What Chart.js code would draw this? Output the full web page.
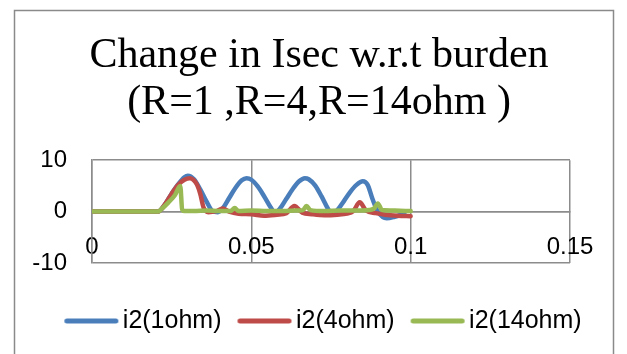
<!DOCTYPE html>
<html>
<head>
<meta charset="utf-8">
<script src="https://cdn.jsdelivr.net/npm/chart.js@4"></script>
<style>
  html, body { margin: 0; padding: 0; background: #fff; overflow: hidden; }
  #wrap { width: 627px; height: 354px; }
</style>
</head>
<body>
<div id="wrap"><canvas id="isecChart" width="627" height="354"></canvas></div>
<script>
const titleLines = ['Change in Isec w.r.t burden', '(R=1 ,R=4,R=14ohm )'];
const seriesNames = ['i2(1ohm)', 'i2(4ohm)', 'i2(14ohm)'];
const seriesColors = ['#4a7ebb', '#be4b48', '#98b954'];

// time (s) and secondary current for R = 1 ohm
const t1 = [0, 0.02, 0.0207, 0.023, 0.025, 0.027, 0.029, 0.0301, 0.032, 0.034, 0.036, 0.0378, 0.0395, 0.041, 0.043, 0.045, 0.047, 0.0485, 0.050, 0.052, 0.054, 0.056, 0.0574, 0.059, 0.061, 0.063, 0.065, 0.0668, 0.068, 0.070, 0.072, 0.074, 0.0752, 0.077, 0.079, 0.081, 0.083, 0.085, 0.0865, 0.088, 0.0897, 0.0925, 0.095, 0.098];
const i1 = [0, 0, 0, 1.5, 3.5, 5.3, 6.7, 7.0, 6.3, 4.3, 1.9, 0.1, -0.1, 0.6, 2.6, 4.6, 6.1, 6.5, 6.2, 4.9, 3.0, 0.9, -0.2, 0.6, 2.5, 4.4, 5.9, 6.5, 6.3, 5.1, 3.0, 0.6, -0.4, 0.3, 2.0, 3.8, 5.2, 5.9, 5.2, 2.5, 0, -1.3, -1.0, -0.4];

// R = 4 ohm
const t2 = [0, 0.02, 0.0207, 0.023, 0.025, 0.027, 0.029, 0.0307, 0.032, 0.033, 0.034, 0.035, 0.0365, 0.039, 0.041, 0.043, 0.046, 0.050, 0.054, 0.058, 0.061, 0.0635, 0.066, 0.069, 0.073, 0.077, 0.080, 0.082, 0.084, 0.086, 0.089, 0.092, 0.096, 0.1];
const i2 = [0, 0, 0, 1.5, 3.5, 5.2, 6.2, 6.5, 6.1, 5.2, 3.4, 0.8, -0.1, 0.1, 0.6, 0, -0.4, -0.5, -0.8, -0.6, -0.3, 1.1, -0.2, -0.5, -0.7, -0.6, -0.4, 0.1, 1.8, 0.2, -0.3, -0.6, -0.8, -0.9];

// R = 14 ohm
const t3 = [0, 0.02, 0.0207, 0.022, 0.024, 0.026, 0.0277, 0.0283, 0.029, 0.032, 0.036, 0.040, 0.0435, 0.0448, 0.046, 0.050, 0.055, 0.060, 0.064, 0.0662, 0.0673, 0.0685, 0.073, 0.078, 0.083, 0.087, 0.0885, 0.0897, 0.091, 0.095, 0.1];
const i3 = [0, 0, 0, 0.6, 1.8, 3.2, 5.0, 0.4, 0.1, 0.1, 0.2, 0.1, 0.1, 0.7, 0.1, 0.2, 0.1, 0.1, 0.2, 0.3, 1.1, 0.3, 0.1, 0.2, 0.2, 0.3, 0.6, 1.6, 0.3, 0.2, 0.1];

const xTicks = [0, 0.05, 0.1, 0.15];
const yTicks = [-10, 0, 10];

const gridGray = '#8c8c8c';
const sansFont = 'Liberation Sans';

function toPoints(xs, ys) {
    return xs.map((x, k) => ({ x: x, y: ys[k] }));
}

// short thick line with round ends, used as the legend marker
function legendLine(color) {
    const cv = document.createElement('canvas');
    cv.width = 58;
    cv.height = 8;
    const c = cv.getContext('2d');
    c.strokeStyle = color;
    c.lineWidth = 5;
    c.lineCap = 'round';
    c.beginPath();
    c.moveTo(4.5, 4);
    c.lineTo(53.5, 4);
    c.stroke();
    return cv;
}

const allT = [t1, t2, t3];
const allI = [i1, i2, i3];

const datasets = seriesNames.map((name, k) => ({
    label: name,
    data: toPoints(allT[k], allI[k]),
    borderColor: seriesColors[k],
    backgroundColor: seriesColors[k],
    borderWidth: 4.5,
    borderCapStyle: 'round',
    borderJoinStyle: 'round',
    pointRadius: 0,
    pointStyle: legendLine(seriesColors[k]),
    showLine: true,
    cubicInterpolationMode: 'monotone',
    order: 3 - k  // green drawn on top like the original
}));

// grey frame round the whole chart
const framePlugin = {
    id: 'frame',
    beforeDraw(chart) {
        const c = chart.ctx;
        c.save();
        c.fillStyle = '#fff';
        c.fillRect(0, 0, chart.width, chart.height);
        c.strokeStyle = '#8a8a8a';
        c.lineWidth = 1.5;
        c.strokeRect(14.5, 10.5, 599, 400);
        c.restore();
    }
};

// legend sits a little right of the title in the original
const legendNudge = {
    id: 'legendNudge',
    afterLayout(chart) {
        chart.legend.left += 8;
        chart.legend.right += 8;
    }
};

new Chart(document.getElementById('isecChart'), {
    type: 'scatter',
    data: { datasets: datasets },
    plugins: [framePlugin, legendNudge],
    options: {
        responsive: false,
        animation: false,
        devicePixelRatio: 1,
        layout: { padding: { top: 10, left: 14, right: 3, bottom: 10.5 } },
        plugins: {
            title: {
                display: true,
                text: titleLines,
                color: '#000',
                font: { family: 'Liberation Serif', size: 42, weight: 'normal', lineHeight: 1.11 },
                padding: { top: 23, bottom: 34 }
            },
            legend: {
                position: 'bottom',
                labels: {
                    usePointStyle: true,
                    pointStyleWidth: 38,
                    color: '#000',
                    font: { family: sansFont, size: 25 },
                    padding: 24,
                    sort: (a, b) => a.datasetIndex - b.datasetIndex
                }
            },
            tooltip: { enabled: false }
        },
        scales: {
            x: {
                type: 'linear',
                position: { y: 0 },
                min: xTicks[0],
                max: xTicks[xTicks.length - 1],
                afterBuildTicks: s => { s.ticks = xTicks.map(v => ({ value: v })); },
                grid: { color: gridGray, lineWidth: 1.5, drawTicks: false },
                border: { color: gridGray, width: 1.5 },
                ticks: {
                    color: '#000',
                    font: { family: sansFont, size: 24 },
                    padding: 21,
                    maxRotation: 0,
                    callback: v => String(v)
                }
            },
            y: {
                type: 'linear',
                position: 'left',
                min: yTicks[0],
                max: yTicks[yTicks.length - 1],
                afterBuildTicks: s => { s.ticks = yTicks.map(v => ({ value: v })); },
                afterFit: s => { s.width = 78; },
                grid: { color: gridGray, lineWidth: 1.5, drawTicks: false },
                border: { color: gridGray, width: 1.5 },
                ticks: {
                    color: '#000',
                    font: { family: sansFont, size: 24 },
                    padding: 25,
                    callback: v => String(v)
                }
            },
            // empty axes used only as spacing
            ySpace: {
                type: 'linear',
                position: 'right',
                grid: { display: false, drawTicks: false },
                border: { display: false },
                ticks: { display: false },
                afterFit: s => { s.width = 54; }
            },
            xSpace: {
                type: 'linear',
                position: 'bottom',
                grid: { display: false, drawTicks: false },
                border: { display: false },
                ticks: { display: false },
                afterFit: s => { s.height = 21.5; }
            }
        }
    }
});
</script>
</body>
</html>
